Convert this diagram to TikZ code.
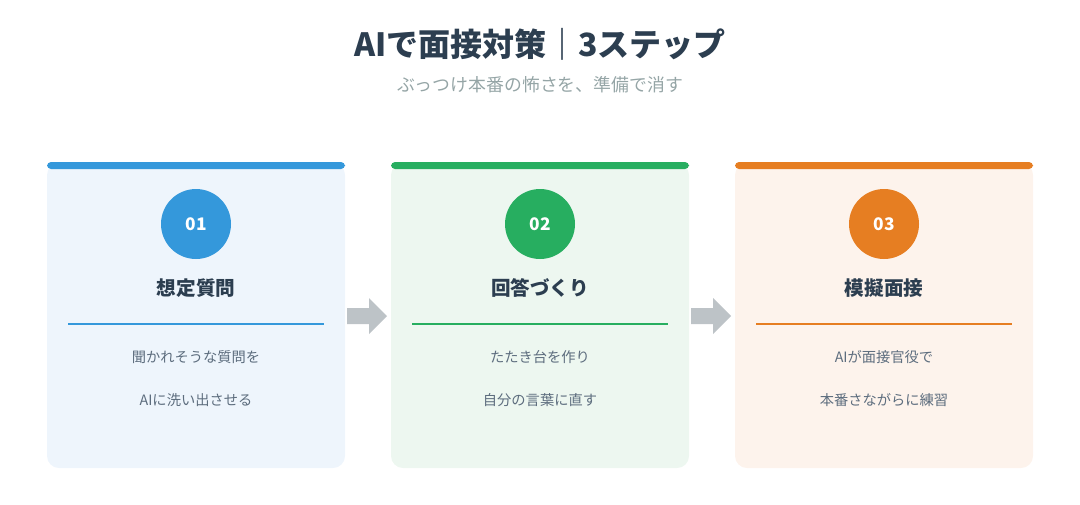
\documentclass[tikz,border=0pt]{standalone}
\usepackage{fontspec}
\setmainfont{Noto Sans CJK JP}
\usetikzlibrary{positioning}
\definecolor{ink}{HTML}{2C3E50}
\definecolor{subgray}{HTML}{95A5A6}
\definecolor{bodygray}{HTML}{5D6D7E}
\definecolor{arrowgray}{HTML}{BDC3C7}
\definecolor{cblue}{HTML}{3498DB}
\definecolor{cgreen}{HTML}{27AE60}
\definecolor{corange}{HTML}{E67E22}
\definecolor{bblue}{HTML}{EEF5FC}
\definecolor{bgreen}{HTML}{EDF7F0}
\definecolor{borange}{HTML}{FDF3EC}
\tikzset{
  card/.style={rounded corners=9pt, draw=none},
  stepnum/.style={circle, minimum size=52.5pt, inner sep=0pt, text=white, font=\bfseries\fontsize{13}{15}\selectfont},
  steptitle/.style={text=ink, font=\bfseries\fontsize{14.7}{17}\selectfont},
  body/.style={text=bodygray, font=\fontsize{10.7}{13}\selectfont},
  step arrow/.style={fill=arrowgray, draw=none}
}
\begin{document}
\begin{tikzpicture}[x=0.75pt,y=-0.75pt]
  \useasboundingbox (0,0) rectangle (1080,504);
  \node[text=ink, font=\bfseries\fontsize{24}{28}\selectfont] (title) at (540,44) {AIで面接対策｜3ステップ};
  \node[text=subgray, font=\fontsize{13.4}{16}\selectfont] (subtitle) at (540,85) {ぶっつけ本番の怖さを、準備で消す};
  \foreach \x/\col/\bg/\num/\head/\la/\lb in {
      47/cblue/bblue/01/想定質問/聞かれそうな質問を/AIに洗い出させる,
      391/cgreen/bgreen/02/回答づくり/たたき台を作り/自分の言葉に直す,
      735/corange/borange/03/模擬面接/AIが面接官役で/本番さながらに練習} {
    \fill[card, fill=\bg] (\x,163) rectangle ++(298,305);
    \fill[\col, rounded corners=3pt] (\x,162) rectangle ++(298,7);
    \node[stepnum, fill=\col] (num\num) at ({\x+149},224) {\num};
    \node[steptitle] (head\num) at ({\x+149},288) {\head};
    \draw[\col, line width=1pt] ({\x+21},324) -- ({\x+277},324);
    \node[body] (la\num) at ({\x+149},357) {\la};
    \node[body] (lb\num) at ({\x+149},400) {\lb};
  }
  \foreach \ax in {367,711}
    \fill[step arrow] ({\ax-20},308) -- ({\ax+2},308) -- ({\ax+2},298) -- ({\ax+20},316)
      -- ({\ax+2},334) -- ({\ax+2},324) -- ({\ax-20},324) -- cycle;
\end{tikzpicture}
\end{document}
